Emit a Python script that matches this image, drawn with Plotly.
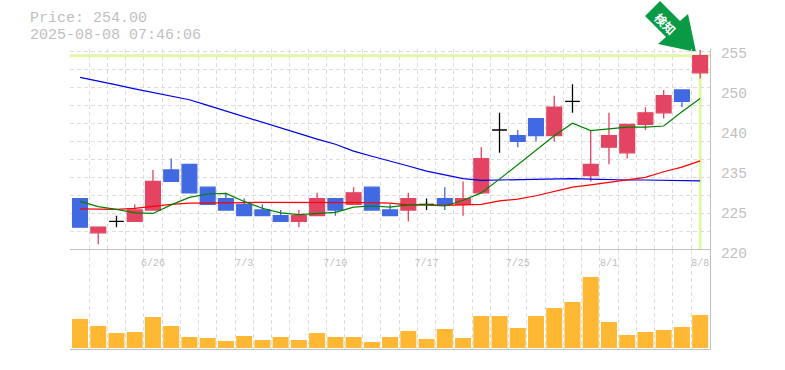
import plotly.graph_objects as go

# Data
open_ = [229,223,225,225,227,234,235,231,229,228,227,226,225,226,229,228,231,227,227,228,229,228,230,241,240,243,240,246,233,238,237,242,244,248,251]
high = [229,224,226,228,234,236,235,231,230,229,228,227,227,230,229,231,231,228,230,229,231,232,238,244,241,243,247,249,241,244,242,245,248,248,255]
low = [224,221,224,225,227,232,230,228,227,226,226,225,224,226,226,228,227,226,225,227,227,226,230,237,238,239,239,244,232,235,236,241,243,245,250]
close = [224,224,225,227,232,232,230,228,227,226,226,225,226,229,227,230,227,226,229,228,228,229,236,241,239,240,245,246,235,240,242,244,247,246,254]
ma_short = [228.5,227.6,227.1,226.5,226.4,227.9,229.2,229.8,229.9,228.5,227.3,226.5,226.2,226.4,226.6,227.5,227.7,227.5,227.9,227.9,227.7,228.7,230.0,232.4,234.9,237.5,240.0,242.2,240.9,241.2,241.5,241.5,241.7,244.2,246.5]
ma_mid = [227.2,227.1,227.1,227.3,227.7,228.0,228.2,228.2,228.3,228.3,228.35,228.35,228.35,228.35,228.35,228.35,228.3,228.2,227.9,227.9,227.8,227.9,228.0,228.6,228.9,229.5,230.2,231.0,231.4,231.8,232.2,232.7,233.7,234.5,235.6]
ma_long = [250.2,249.6,248.9,248.2,247.6,246.9,246.3,245.3,244.3,243.4,242.4,241.4,240.3,239.4,238.5,237.3,236.4,235.6,234.7,233.8,233.1,232.5,232.2,232.25,232.3,232.4,232.5,232.5,232.4,232.3,232.25,232.25,232.2,232.1,232.1]
volume = [29,22,15,16,31,22,11,10,7,12,8,11,8,15,11,11,6,11,17,9,19,10,32,32,20,32,40,46,71,26,13,16,18,21,33]
date_pos = [4,9,14,19,24,29,34]
date_labels = ["6/26","7/3","7/10","7/17","7/25","8/1","8/8"]
price_ticks = [220,227,234,241,248,255]
price_labels = ["220","225","235","240","250","255"]
last_price = 254
title_lines = ["Price: 254.00","2025-08-08 07:46:06"]

RED, BLUE, BLACK = "#e24462", "#4169e1", "#000000"
GRID, AXIS, TEXT = "#dddddd", "#c0c0c0", "#c0c0c0"
HILITE = "#e3f6a8"
MONO = "Liberation Mono, DejaVu Sans Mono, monospace"
W, H = 785, 370
L, R, T, B = 70, 710, 49, 349
x = list(range(len(close)))


def px(u):
    return (u - L) / (R - L)


def py(v):
    return (B - v) / (B - T)


fig = go.Figure()
for name, col, arr in [("MA long", "#0000e6", ma_long), ("MA mid", "#ff0000", ma_mid), ("MA short", "#008000", ma_short)]:
    fig.add_trace(go.Scatter(x=x, y=arr, mode="lines", line=dict(color=col, width=1.2), name=name, xaxis="x", yaxis="y"))


def candles(keep, col):
    idx = [i for i in x if keep(i)]
    s = dict(line=dict(color=col, width=1.3), fillcolor=col)
    fig.add_trace(go.Candlestick(x=idx, open=[open_[i] for i in idx], high=[high[i] for i in idx],
                                 low=[low[i] for i in idx], close=[close[i] for i in idx],
                                 increasing=s, decreasing=s, xaxis="x", yaxis="y", whiskerwidth=0))


candles(lambda i: close[i] > open_[i], RED)
candles(lambda i: close[i] < open_[i], BLUE)
candles(lambda i: close[i] == open_[i], BLACK)

fig.add_trace(go.Bar(x=x, y=volume, marker=dict(color="#ffb833", line=dict(width=0)), width=0.877, xaxis="x2", yaxis="y2"))

xr = [(L - 80) / 18.24, (R - 80) / 18.24]
grid_x = [i - 0.5 for i in range(len(x) + 1)]
grid_y = [220 + k * 3.166 for k in range(12)]
minor_x = dict(tickmode="array", tickvals=grid_x, showgrid=True, gridcolor=GRID, griddash="4px,3px", gridwidth=1, ticks="")

fig.update_layout(
    width=W, height=H, margin=dict(l=L, r=W - R, t=T, b=H - B, pad=0, autoexpand=False),
    paper_bgcolor="white", plot_bgcolor="white", showlegend=False, boxgap=0.19, boxgroupgap=0, barmode="overlay",
    xaxis=dict(domain=[0, 1], range=xr, anchor="y", showticklabels=False, showgrid=False, zeroline=False,
               tickmode="array", tickvals=[], minor=minor_x, rangeslider=dict(visible=False), showline=False),
    yaxis=dict(domain=[py(250), 1], range=[220, 220 + (250 - T) / 5.714], anchor="x", side="right",
               tickmode="array", tickvals=price_ticks, ticktext=price_labels, showgrid=False, zeroline=False,
               showline=True, linecolor=AXIS, linewidth=1, ticks="", ticklabelstandoff=7, ticklabelshift=3,
               tickfont=dict(family=MONO, size=14.5, color=TEXT),
               minor=dict(tickmode="array", tickvals=grid_y, showgrid=True, gridcolor=GRID, griddash="4px,3px", gridwidth=1, ticks="")),
    xaxis2=dict(domain=[0, 1], range=xr, anchor="y2", side="top", ticklabelposition="inside", tickmode="array",
                tickvals=date_pos, ticktext=date_labels, showgrid=False, zeroline=False, ticks="inside", ticklen=8,
                tickcolor="rgba(0,0,0,0)",
                tickfont=dict(family=MONO, size=10, color=TEXT), showline=True, mirror=True, linecolor=AXIS, linewidth=1,
                minor=minor_x),
    yaxis2=dict(domain=[0, py(250)], range=[-1, 98], anchor="x2", side="right", showticklabels=False, showgrid=False,
                zeroline=False, showline=True, linecolor=AXIS, linewidth=1, ticks=""),
    shapes=[
        dict(type="line", xref="paper", x0=0, x1=1, yref="y", y0=last_price, y1=last_price,
             line=dict(color=HILITE, width=3), layer="below"),
        dict(type="line", xref="x", x0=34, x1=34, yref="y", y0=220, y1=last_price,
             line=dict(color=HILITE, width=3), layer="below"),
        dict(type="path", xref="paper", yref="paper", fillcolor="#089a44", line=dict(width=0), layer="below",
             path="M {} {} L {} {} L {} {} L {} {} L {} {} L {} {} L {} {} Z".format(
                 px(660), py(1), px(645), py(16), px(666), py(37), px(658), py(44),
                 px(696), py(52), px(688), py(14), px(680), py(21))),
    ],
    annotations=[
        dict(xref="paper", yref="paper", x=px(27.5), y=py(18.5), text=title_lines[0], showarrow=False, xanchor="left",
             yanchor="middle", font=dict(family=MONO, size=15, color=TEXT)),
        dict(xref="paper", yref="paper", x=px(27.5), y=py(35), text=title_lines[1], showarrow=False, xanchor="left",
             yanchor="middle", font=dict(family=MONO, size=15, color=TEXT)),
        dict(xref="paper", yref="paper", x=px(666), y=py(23), text="検知", showarrow=False, textangle=45,
             xanchor="center", yanchor="middle",
             font=dict(family="Noto Sans CJK JP", size=12, color="white", weight="bold")),
    ],
)
fig.write_html("out.html", config=dict(displayModeBar=False),
               post_script="document.body.style.margin='0';document.body.style.overflow='hidden';")
